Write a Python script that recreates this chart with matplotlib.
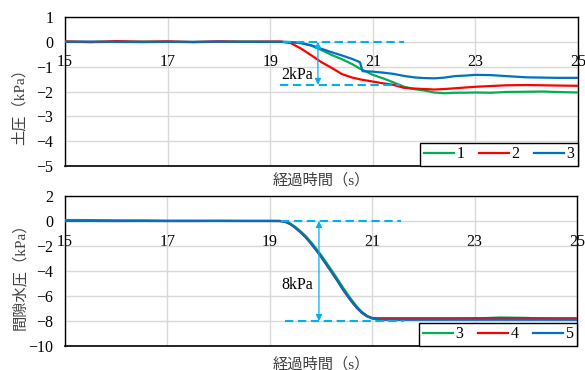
import matplotlib
matplotlib.use("Agg")
import matplotlib.pyplot as plt

# ---- earth pressure (top panel) ----
t_top = [15.0, 15.5, 16.0, 16.5, 17.0, 17.5, 18.0, 18.5, 19.0, 19.2,
         19.4, 19.6, 19.8, 20.0, 20.2, 20.4, 20.6, 20.75, 20.8, 21.0,
         21.2, 21.4, 21.6, 21.8, 22.0, 22.2, 22.4, 22.6, 22.8, 23.0,
         23.3, 23.6, 24.0, 24.3, 24.6, 25.0]
ep_1 = [0.00, -0.01, 0.00, 0.01, 0.00, -0.01, 0.00, 0.01, 0.00, 0.00,
        -0.01, -0.05, -0.15, -0.33, -0.53, -0.70, -0.90, -1.08, -1.13, -1.33,
        -1.47, -1.63, -1.80, -1.90, -1.96, -2.04, -2.07, -2.05, -2.05, -2.04,
        -2.05, -2.02, -2.01, -2.00, -2.02, -2.04]
ep_2 = [0.02, -0.01, 0.03, 0.00, 0.02, -0.01, 0.02, 0.00, 0.01, 0.01,
        -0.05, -0.27, -0.54, -0.82, -1.05, -1.30, -1.44, -1.51, -1.53, -1.60,
        -1.67, -1.73, -1.85, -1.88, -1.90, -1.92, -1.90, -1.87, -1.84, -1.81,
        -1.78, -1.75, -1.74, -1.75, -1.76, -1.77]
ep_3 = [0.00, 0.01, 0.00, -0.01, 0.00, 0.00, 0.01, 0.00, 0.00, 0.00,
        -0.01, -0.05, -0.14, -0.28, -0.42, -0.55, -0.69, -0.82, -1.18, -1.20,
        -1.24, -1.29, -1.37, -1.43, -1.46, -1.47, -1.44, -1.38, -1.36, -1.33,
        -1.34, -1.38, -1.43, -1.44, -1.45, -1.45]

# ---- pore water pressure (bottom panel) ----
t_bot = [15.0, 15.5, 16.0, 16.5, 17.0, 17.5, 18.0, 18.5, 19.0, 19.2,
         19.3, 19.4, 19.5, 19.6, 19.7, 19.8, 19.9, 20.0, 20.1, 20.2,
         20.3, 20.4, 20.5, 20.6, 20.7, 20.8, 20.9, 21.0, 21.1, 21.2,
         21.5, 22.0, 22.5, 23.0, 23.5, 24.0, 24.5, 25.0]
pw_3 = [0.08, 0.07, 0.05, 0.04, 0.02, 0.02, 0.01, 0.01, 0.01, 0.00,
        -0.04, -0.20, -0.48, -0.82, -1.20, -1.66, -2.18, -2.72, -3.30, -3.90,
        -4.50, -5.14, -5.75, -6.32, -6.85, -7.28, -7.58, -7.78, -7.85, -7.86,
        -7.86, -7.86, -7.85, -7.80, -7.72, -7.75, -7.84, -7.86]
pw_4 = [0.01, 0.01, 0.00, 0.01, 0.00, 0.00, 0.01, 0.00, 0.00, 0.00,
        -0.06, -0.25, -0.55, -0.90, -1.30, -1.78, -2.30, -2.85, -3.45, -4.05,
        -4.65, -5.30, -5.90, -6.45, -6.95, -7.35, -7.62, -7.76, -7.78, -7.78,
        -7.78, -7.78, -7.78, -7.78, -7.78, -7.78, -7.78, -7.78]
pw_5 = [0.00, 0.00, 0.00, 0.00, 0.00, 0.00, 0.00, 0.00, 0.00, 0.00,
        -0.06, -0.25, -0.55, -0.90, -1.30, -1.78, -2.30, -2.85, -3.45, -4.05,
        -4.65, -5.30, -5.90, -6.45, -6.95, -7.35, -7.63, -7.80, -7.88, -7.90,
        -7.90, -7.90, -7.90, -7.90, -7.90, -7.90, -7.90, -7.90]

# ---- dimension marks (kPa change) ----
top_dim_levels = [0.0, -1.73]
top_dim_span = [(19.25, 21.61), (19.20, 21.53)]
top_dim_x = 19.93
top_dim_text = "2kPa"
top_dim_text_pos = (19.84, -1.33)

bot_dim_levels = [0.0, -8.0]
bot_dim_span = [(19.22, 21.56), (19.29, 21.63)]
bot_dim_x = 19.96
bot_dim_text = "8kPa"
bot_dim_text_pos = (19.84, -5.1)

x_ticks = [15, 17, 19, 21, 23, 25]
top_yticks = [1, 0, -1, -2, -3, -4, -5]
bot_yticks = [2, 0, -2, -4, -6, -8, -10]

GREEN, RED, BLUE, CYAN = "#00B050", "#FF0000", "#0070C0", "#00B0F0"
SERIF = "Liberation Serif"
MIXED = [SERIF, "Noto Sans CJK JP"]
LW = 1.6
NUM_SIZE = 11.5

fig = plt.figure(figsize=(5.85, 3.70), dpi=100)
W, H = 585.0, 370.0
ax1 = fig.add_axes([65 / W, 1 - 166 / H, 513 / W, 149 / H])
ax2 = fig.add_axes([65 / W, 1 - 346 / H, 512 / W, 150 / H])


def style_axes(ax, yticks, ylabel, ylabel_y, xlabel_y):
    ax.set_xlim(15, 25)
    ax.set_ylim(min(yticks), max(yticks))
    ax.set_xticks(x_ticks)
    ax.set_yticks(yticks)
    ax.grid(True, color="#d9d9d9", linewidth=1.0)
    ax.set_axisbelow(True)
    # horizontal axis crosses at zero
    ax.spines["bottom"].set_position(("data", 0))
    ax.spines["bottom"].set_visible(False)
    for s in ("top", "left", "right"):
        ax.spines[s].set_color("black")
        ax.spines[s].set_linewidth(1.0)
    ax.axhline(min(yticks), color="black", linewidth=1.2, zorder=5,
               clip_on=False)
    ax.tick_params(axis="both", length=0, labelsize=NUM_SIZE)
    ax.tick_params(axis="x", pad=9)
    ax.tick_params(axis="y", pad=8.5)
    for lab in ax.get_xticklabels() + ax.get_yticklabels():
        lab.set_fontfamily(SERIF)
    ax.set_xlabel("経過時間（s）", family=MIXED, fontsize=11, color="#404040")
    ax.xaxis.set_label_coords(0.5, xlabel_y)
    ax.set_ylabel(ylabel, family=MIXED, fontsize=11, color="#404040")
    ax.yaxis.set_label_coords(-0.074, ylabel_y)


def dimension(ax, levels, spans, x, text, text_pos):
    for lvl, (a, b) in zip(levels, spans):
        ax.plot([a, b], [lvl, lvl], color=CYAN, linewidth=1.5,
                dashes=(4, 2.2), zorder=4)
    ax.annotate("", xy=(x, levels[1]), xytext=(x, levels[0]),
                arrowprops=dict(arrowstyle="<|-|>", color=CYAN, lw=0.9,
                                mutation_scale=9, shrinkA=0, shrinkB=0),
                zorder=4)
    ax.text(text_pos[0], text_pos[1], text, ha="right", va="center",
            family=SERIF, fontsize=NUM_SIZE, zorder=6)


def legend(ax):
    leg = ax.legend(loc="lower right", bbox_to_anchor=(1.0, 0.0),
                    borderaxespad=0.0, ncol=3, fancybox=False,
                    prop={"family": SERIF, "size": NUM_SIZE},
                    handlelength=1.9, handletextpad=0.15,
                    columnspacing=0.9, borderpad=0.22, framealpha=1.0)
    leg.get_frame().set_edgecolor("black")
    leg.get_frame().set_linewidth(1.0)
    leg.set_zorder(10)


# top panel
ax1.plot(t_top, ep_1, color=GREEN, linewidth=LW, label="1", zorder=3)
ax1.plot(t_top, ep_2, color=RED, linewidth=LW, label="2", zorder=3)
ax1.plot(t_top, ep_3, color=BLUE, linewidth=LW, label="3", zorder=3)
style_axes(ax1, top_yticks, "土圧（kPa）", 0.426, -0.045)
dimension(ax1, top_dim_levels, top_dim_span, top_dim_x, top_dim_text,
          top_dim_text_pos)
legend(ax1)

# bottom panel
ax2.plot(t_bot, pw_3, color=GREEN, linewidth=LW, label="3", zorder=3)
ax2.plot(t_bot, pw_4, color=RED, linewidth=LW, label="4", zorder=3)
ax2.plot(t_bot, pw_5, color=BLUE, linewidth=LW, label="5", zorder=3)
style_axes(ax2, bot_yticks, "間隙水圧（kPa）", 0.49, -0.07)
dimension(ax2, bot_dim_levels, bot_dim_span, bot_dim_x, bot_dim_text,
          bot_dim_text_pos)
legend(ax2)

fig.savefig("out.png", dpi=100)
